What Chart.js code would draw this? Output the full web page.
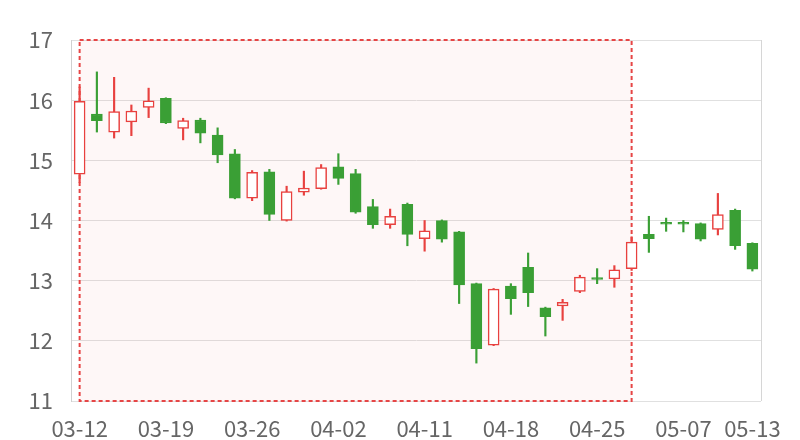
<!DOCTYPE html>
<html>
<head>
<meta charset="utf-8">
<script src="https://cdn.jsdelivr.net/npm/chart.js@4"></script>
<style>
  html, body { margin: 0; padding: 0; background: #fff; }
  #wrap { width: 800px; height: 440px; }
</style>
</head>
<body>
<div id="wrap"><canvas id="chart1"></canvas></div>
<script>
let dates = ['03-12', '03-13', '03-14', '03-15', '03-16', '03-19', '03-20', '03-21', '03-22', '03-23',
    '03-26', '03-27', '03-28', '03-29', '03-30', '04-02', '04-03', '04-04', '04-09', '04-10',
    '04-11', '04-12', '04-13', '04-16', '04-17', '04-18', '04-19', '04-20', '04-23', '04-24',
    '04-25', '04-26', '04-27', '05-02', '05-03', '05-07', '05-08', '05-09', '05-10', '05-13'];
let open  = [14.77, 15.77, 15.47, 15.64, 15.88, 16.03, 15.53, 15.67, 15.42, 15.11,
    14.37, 14.81, 14.00, 14.47, 14.53, 14.89, 14.78, 14.23, 13.93, 14.27,
    13.70, 14.00, 13.81, 12.95, 11.93, 12.91, 13.22, 12.55, 12.58, 12.82,
    13.05, 13.03, 13.20, 13.77, 13.97, 13.97, 13.95, 13.85, 14.17, 13.62];
let close = [15.98, 15.66, 15.81, 15.82, 15.99, 15.62, 15.66, 15.45, 15.09, 14.37,
    14.80, 14.10, 14.48, 14.54, 14.88, 14.70, 14.14, 13.93, 14.07, 13.77,
    13.83, 13.69, 12.93, 11.87, 12.86, 12.70, 12.80, 12.40, 12.64, 13.06,
    13.02, 13.18, 13.64, 13.70, 13.94, 13.94, 13.69, 14.10, 13.58, 13.19];
let low   = [14.63, 15.47, 15.37, 15.41, 15.71, 15.61, 15.34, 15.29, 14.96, 14.36,
    14.33, 14.00, 13.99, 14.42, 14.52, 14.60, 14.12, 13.87, 13.87, 13.58,
    13.49, 13.64, 12.62, 11.63, 11.92, 12.44, 12.57, 12.08, 12.34, 12.80,
    12.95, 12.89, 13.17, 13.47, 13.82, 13.81, 13.66, 13.76, 13.52, 13.16];
let high  = [16.22, 16.47, 16.38, 15.92, 16.20, 16.04, 15.70, 15.70, 15.54, 15.18,
    14.83, 14.85, 14.57, 14.82, 14.93, 15.11, 14.85, 14.35, 14.19, 14.29,
    14.00, 14.01, 13.82, 12.96, 12.87, 12.95, 13.46, 12.56, 12.69, 13.09,
    13.20, 13.25, 13.73, 14.07, 14.04, 14.00, 13.96, 14.45, 14.19, 13.63];

// shaded range (first and last category)
let markFrom = '03-12';
let markTo = '04-27';

const upColor = '#e8413f';
const downColor = '#3a9f35';

let bodies = dates.map((d, i) => [open[i], close[i]]);
let wicks = dates.map((d, i) => [low[i], high[i]]);
let isUp = dates.map((d, i) => close[i] >= open[i]);

const markArea = {
    id: 'markArea',
    beforeDatasetsDraw(chart) {
        const ctx = chart.ctx;
        const x = chart.scales.x, y = chart.scales.y;
        const x1 = x.getPixelForValue(dates.indexOf(markFrom));
        const x2 = x.getPixelForValue(dates.indexOf(markTo));
        const top = y.getPixelForValue(17), bottom = y.getPixelForValue(11);
        ctx.save();
        ctx.fillStyle = 'rgba(240, 120, 120, 0.06)';
        ctx.fillRect(x1, top, x2 - x1, bottom - top);
        ctx.strokeStyle = '#e64545';
        ctx.lineWidth = 2;
        ctx.setLineDash([4, 3]);
        ctx.strokeRect(x1, top, x2 - x1, bottom - top);
        ctx.restore();
    },
    afterDraw(chart) {
        // right frame line
        const ctx = chart.ctx, a = chart.chartArea;
        ctx.save();
        ctx.strokeStyle = '#d6d6d6';
        ctx.lineWidth = 1;
        ctx.beginPath();
        ctx.moveTo(Math.round(a.right) + 0.5, a.top);
        ctx.lineTo(Math.round(a.right) + 0.5, a.bottom);
        ctx.stroke();
        ctx.restore();
    }
};

const chart1 = document.getElementById('chart1').getContext('2d');
new Chart(chart1, {
    type: 'bar',
    data: {
        labels: dates,
        datasets: [
            {
                label: 'body',
                data: bodies,
                backgroundColor: isUp.map(u => u ? '#ffffff' : downColor),
                borderColor: isUp.map(u => u ? upColor : downColor),
                borderWidth: 1.5,
                borderSkipped: false,
                barThickness: 11,
                grouped: false,
                order: 0
            },
            {
                label: 'wick',
                data: wicks,
                backgroundColor: isUp.map(u => u ? upColor : downColor),
                borderWidth: 0,
                barThickness: 1.5,
                grouped: false,
                order: 1
            }
        ]
    },
    options: {
        responsive: true,
        maintainAspectRatio: false,
        animation: false,
        layout: { padding: { top: 40, right: 39, left: 0, bottom: 0 } },
        scales: {
            x: {
                offset: true,
                grid: { display: false, drawTicks: false },
                border: { display: false },
                afterFit: (s) => { s.height = 39; },
                ticks: {
                    autoSkip: false,
                    maxRotation: 0,
                    padding: 14,
                    color: '#666',
                    font: { family: 'Noto Sans CJK SC', size: 22 },
                    callback: (v, i) => (i % 5 === 0 || i === dates.length - 1) ? dates[i] : ''
                }
            },
            y: {
                min: 11,
                max: 17,
                grid: { color: '#e0e0e0', drawTicks: false },
                border: { display: true, color: '#d0d0d0' },
                afterFit: (s) => { s.width = 71; },
                ticks: {
                    stepSize: 1,
                    padding: 18,
                    color: '#666',
                    font: { family: 'Noto Sans CJK SC', size: 22 }
                }
            }
        },
        plugins: {
            legend: { display: false },
            tooltip: { enabled: false }
        }
    },
    plugins: [markArea]
});
</script>
</body>
</html>
